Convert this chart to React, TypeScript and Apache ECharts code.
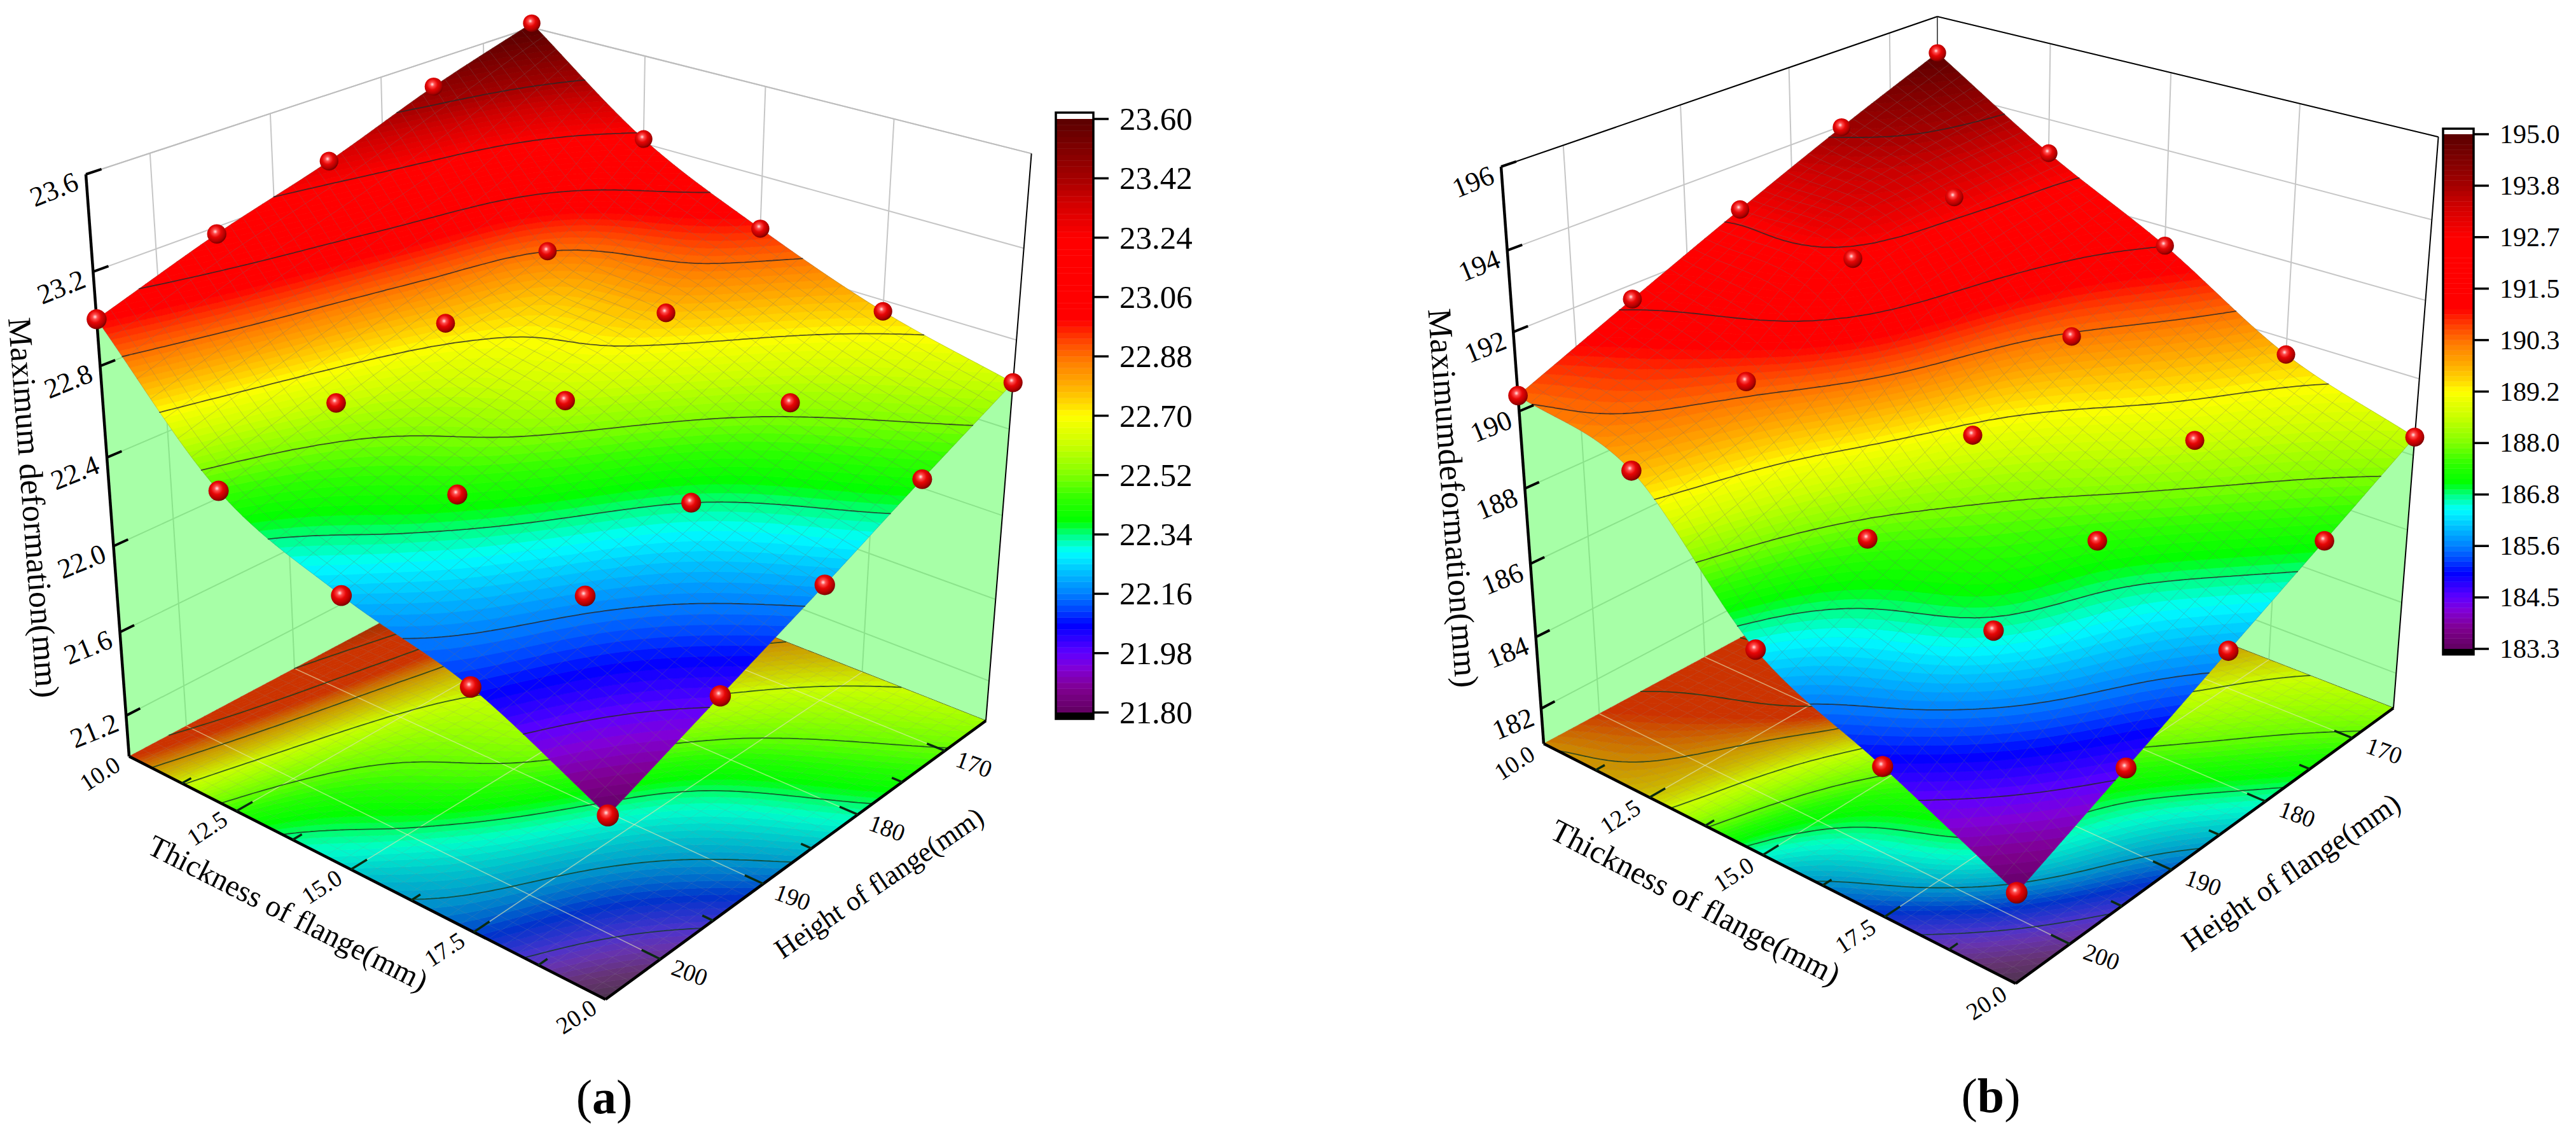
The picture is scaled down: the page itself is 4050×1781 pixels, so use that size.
import React, { useEffect, useRef } from "react";
import * as echarts from "echarts";

const FONT = "'Liberation Serif','Times New Roman',serif";
const W_PAGE = 4050;
const H_PAGE = 1781;

// ---------- data ----------
const thicknessLevels = [10, 12.5, 15, 17.5, 20];
const heightLevels = [165, 175, 185, 195, 205];
// rows: thickness; columns: height
const deformationA = [
  [23.62, 23.48, 23.31, 23.17, 23.0],
  [23.22, 22.88, 22.75, 22.61, 22.46],
  [22.96, 22.77, 22.59, 22.41, 22.23],
  [22.75, 22.55, 22.34, 22.19, 22.08],
  [22.61, 22.41, 22.2, 22.0, 21.8],
];
const deformationB = [
  [195.02, 193.97, 192.83, 191.63, 190.4],
  [193.1, 192.97, 192.48, 190.55, 189.64],
  [191.5, 190.26, 188.96, 187.69, 186.41],
  [189.58, 188.61, 187.41, 186.65, 184.9],
  [188.48, 187.18, 185.89, 184.6, 183.32],
];
const thicknessMajor = [10, 12.5, 15, 17.5, 20];
const thicknessMinor = [11.25, 13.75, 16.25, 18.75];
const heightMajor = [170, 180, 190, 200];
const heightMinor = [175, 185, 195];
const zTicksA = [21.2, 21.6, 22.0, 22.4, 22.8, 23.2, 23.6];
const zTicksB = [182, 184, 186, 188, 190, 192, 194, 196];
const colorLabelsA = ["21.80", "21.98", "22.16", "22.34", "22.52", "22.70", "22.88", "23.06", "23.24", "23.42", "23.60"];
const colorLabelsB = ["183.3", "184.5", "185.6", "186.8", "188.0", "189.2", "190.3", "191.5", "192.7", "193.8", "195.0"];

// ---------- colour scale of the reference ----------
const colorStops: [number, number[]][] = [
  [0, [96, 0, 96]], [0.04, [128, 0, 144]], [0.075, [128, 0, 216]], [0.1, [96, 0, 255]],
  [0.147, [0, 0, 255]], [0.171, [0, 64, 255]], [0.2, [0, 128, 255]], [0.236, [0, 191, 255]],
  [0.271, [0, 255, 255]], [0.3, [0, 255, 128]], [0.322, [0, 255, 0]], [0.361, [48, 255, 0]],
  [0.4, [128, 255, 0]], [0.45, [200, 255, 0]], [0.5, [255, 255, 0]], [0.518, [255, 221, 0]],
  [0.554, [255, 170, 0]], [0.59, [255, 127, 0]], [0.625, [255, 69, 0]], [0.645, [255, 32, 0]],
  [0.661, [255, 0, 0]], [0.8, [255, 0, 0]], [0.86, [208, 0, 0]], [0.9, [165, 0, 0]], [1, [90, 0, 0]],
];
const BANDS = 100;
function bandColor(k: number, floor: boolean) {
  const t = (k + 0.5) / BANDS;
  let c = colorStops[colorStops.length - 1][1];
  for (let i = 1; i < colorStops.length; i++) {
    if (t <= colorStops[i][0]) {
      const [t0, c0] = colorStops[i - 1];
      const [t1, c1] = colorStops[i];
      const f = (t - t0) / (t1 - t0);
      c = c0.map((v, j) => v + (c1[j] - v) * f);
      break;
    }
  }
  if (floor) c = [c[0] * 0.8, c[1] * 0.8 + 51, c[2] * 0.8];
  return `rgb(${Math.round(c[0])},${Math.round(c[1])},${Math.round(c[2])})`;
}

// ---------- perspective camera built from the box corners ----------
type P = number[];
function makeCamera(K: P, R: P, B: P, L: P, Lt: P, Rt: P) {
  const dx1 = R[0] - B[0], dx2 = L[0] - B[0], sx = K[0] - R[0] + B[0] - L[0];
  const dy1 = R[1] - B[1], dy2 = L[1] - B[1], sy = K[1] - R[1] + B[1] - L[1];
  const det = dx1 * dy2 - dx2 * dy1;
  const g = (sx * dy2 - dx2 * sy) / det;
  const h = (dx1 * sy - sx * dy1) / det;
  const a = R[0] - K[0] + g * R[0], b = L[0] - K[0] + h * L[0], c = K[0];
  const d = R[1] - K[1] + g * R[1], e = L[1] - K[1] + h * L[1], f = K[1];
  const sl = (L[0] - Lt[0]) / (L[1] - Lt[1]);
  const sr = (R[0] - Rt[0]) / (R[1] - Rt[1]);
  const Vy = (R[0] - sr * R[1] - L[0] + sl * L[1]) / (sl - sr);
  const Vx = L[0] + sl * (Vy - L[1]);
  const wL = 1 + h;
  const beta = (wL * (Lt[1] - L[1])) / (Vy - Lt[1]);
  return (u: number, v: number, w: number): P => {
    const W = 1 + g * u + h * v + beta * w;
    return [(a * u + b * v + c + beta * w * Vx) / W, (d * u + e * v + f + beta * w * Vy) / W, W];
  };
}

// ---------- smooth surface through the read values (drawing step only) ----------
function cr(p0: number, p1: number, p2: number, p3: number, t: number) {
  return 0.5 * (2 * p1 + (p2 - p0) * t + (2 * p0 - 5 * p1 + 4 * p2 - p3) * t * t + (3 * p1 - p0 - 3 * p2 + p3) * t * t * t);
}
function sampler(rows: number[][]) {
  const n = rows.length;
  const at = (i: number, j: number) => {
    const ci = (x: number) => Math.max(0, Math.min(n - 1, x));
    const ii = ci(i), jj = ci(j);
    let val = rows[ii][jj];
    if (i !== ii) val += (rows[ii][jj] - rows[i < 0 ? 1 : n - 2][jj]);
    if (j !== jj) val += (rows[ii][jj] - rows[ii][j < 0 ? 1 : n - 2]);
    return val;
  };
  return (u: number, v: number) => {
    const x = Math.min(u * (n - 1), n - 1.000001), y = Math.min(v * (n - 1), n - 1.000001);
    const i = Math.floor(x), j = Math.floor(y);
    const tx = x - i, ty = y - j;
    const col = [-1, 0, 1, 2].map((di) =>
      cr(at(i + di, j - 1), at(i + di, j), at(i + di, j + 1), at(i + di, j + 2), ty)
    );
    return cr(col[0], col[1], col[2], col[3], tx);
  };
}

type V = number[]; // u, v, z
function clipBelow(poly: V[], lim: number, keepAbove: boolean) {
  const out: V[] = [];
  for (let i = 0; i < poly.length; i++) {
    const p = poly[i], q = poly[(i + 1) % poly.length];
    const pin = keepAbove ? p[2] >= lim : p[2] <= lim;
    const qin = keepAbove ? q[2] >= lim : q[2] <= lim;
    if (pin) out.push(p);
    if (pin !== qin) {
      const t = (lim - p[2]) / (q[2] - p[2]);
      out.push([p[0] + (q[0] - p[0]) * t, p[1] + (q[1] - p[1]) * t, lim]);
    }
  }
  return out;
}

const MESH = 60;
function triangulate(f: (u: number, v: number) => number) {
  const tris: V[][] = [];
  const g: V[][] = [];
  for (let i = 0; i <= MESH; i++) {
    g.push([]);
    for (let j = 0; j <= MESH; j++) {
      const u = i / MESH, v = j / MESH;
      g[i].push([u, v, f(u, v)]);
    }
  }
  for (let i = 0; i < MESH; i++)
    for (let j = 0; j < MESH; j++) {
      tris.push([g[i][j], g[i + 1][j], g[i + 1][j + 1]]);
      tris.push([g[i][j], g[i + 1][j + 1], g[i][j + 1]]);
    }
  return tris;
}
function bandPolys(tris: V[][], cMin: number, cMax: number) {
  const dz = (cMax - cMin) / BANDS;
  const bands: V[][][] = Array.from({ length: BANDS }, () => []);
  for (const t of tris) {
    const zs = t.map((p) => p[2]);
    const k0 = Math.max(0, Math.min(BANDS - 1, Math.floor((Math.min(...zs) - cMin) / dz)));
    const k1 = Math.max(0, Math.min(BANDS - 1, Math.floor((Math.max(...zs) - cMin) / dz)));
    for (let k = k0; k <= k1; k++) {
      let poly: V[] = t;
      if (k > 0) poly = clipBelow(poly, cMin + k * dz, true);
      if (k < BANDS - 1 && poly.length) poly = clipBelow(poly, cMin + (k + 1) * dz, false);
      if (poly.length >= 3) bands[k].push(poly);
    }
  }
  return bands;
}
function contourSegs(tris: V[][], levels: number[]) {
  const segs: V[][] = [];
  for (const lv of levels)
    for (const t of tris) {
      const pts: V[] = [];
      for (let i = 0; i < 3; i++) {
        const p = t[i], q = t[(i + 1) % 3];
        if (p[2] < lv !== q[2] < lv) {
          const s = (lv - p[2]) / (q[2] - p[2]);
          pts.push([p[0] + (q[0] - p[0]) * s, p[1] + (q[1] - p[1]) * s]);
        }
      }
      if (pts.length === 2) segs.push(pts);
    }
  return segs;
}

// ---------- the two panels ----------
const panels = [
  {
    rows: deformationA, zMin: 21, zMax: 23.6, cMin: 21.8, cMax: 23.6, zTicks: zTicksA, zFmt: (v: number) => v.toFixed(1),
    corners: { K: [837, 852], R: [1550, 1133], B: [952, 1571], L: [203, 1189], Lt: [135, 274], Rt: [1622, 237] },
    frameColor: "#bdbdbd", backLine: false,
    zTitle: { text: "Maximum deformation(mm)", x: 53, y: 798, rot: -85.7, size: 52 },
    tTitle: { x: 453, y: 1435, rot: -26.8, size: 48 },
    hTitle: { x: 1382, y: 1388, rot: 34.2, size: 44 },
    caption: { text: "({b|a})", x: 950, y: 1724 },
    zOff: [-50, 24], tOff: [-46, 27], hOff: [46, 21],
  },
  {
    rows: deformationB, zMin: 181, zMax: 196, cMin: 183.3, cMax: 195, zTicks: zTicksB, zFmt: (v: number) => String(v),
    corners: { K: [3048, 835], R: [3763, 1113], B: [3169, 1546], L: [2427, 1169], Lt: [2360, 262], Rt: [3833, 223] },
    frameColor: "#000", backLine: true,
    zTitle: { text: "Maximumdeformation(mm)", x: 2285, y: 783, rot: -85.8, size: 53 },
    tTitle: { x: 2666, y: 1418, rot: -27.5, size: 50 },
    hTitle: { x: 3602, y: 1371, rot: 34.3, size: 46 },
    caption: { text: "({b|b})", x: 3130, y: 1722 },
    zOff: [-44, 24], tOff: [-46, 30], hOff: [50, 20],
  },
];

const round = (n: number) => Math.round(n * 10) / 10;

function panelSeries(p: (typeof panels)[number]) {
  const c = p.corners;
  const cam = makeCamera(c.K, c.R, c.B, c.L, c.Lt, c.Rt);
  const surf = sampler(p.rows);
  const wOf = (z: number) => (z - p.zMin) / (p.zMax - p.zMin);
  const uOf = (t: number) => (t - 10) / 10;
  const vOf = (h: number) => (h - 165) / 40;
  const tris = triangulate(surf);
  const bands = bandPolys(tris, p.cMin, p.cMax);
  const levels = Array.from({ length: 9 }, (_, i) => p.cMin + ((i + 1) * (p.cMax - p.cMin)) / 10);
  const segs = contourSegs(tris, levels);

  const base = { type: "custom", coordinateSystem: "cartesian2d", xAxisIndex: 0, yAxisIndex: 0, data: [[0, 0]], silent: true, clip: false };
  const at = (api: any, u: number, v: number, w: number) => api.coord(cam(u, v, w));
  const seg = (api: any, a: number[], b: number[], color: string, lineWidth: number) => {
    const s = at(api, a[0], a[1], a[2]), e = at(api, b[0], b[1], b[2]);
    return { type: "line", shape: { x1: s[0], y1: s[1], x2: e[0], y2: e[1] }, style: { stroke: color, lineWidth } };
  };
  const polyPath = (api: any, poly: number[][], wFn: (q: number[]) => number) =>
    poly.map((q, i) => {
      const s = at(api, q[0], q[1], wFn(q));
      return `${i ? "L" : "M"}${round(s[0])} ${round(s[1])}`;
    }).join("") + "Z";
  const bandLayer = (floor: boolean) => ({
    ...base,
    renderItem: (_: any, api: any) => ({
      type: "group",
      children: bands.map((polys, k) => {
        if (!polys.length) return null;
        const d = polys.map((q) => polyPath(api, q, floor ? () => 0 : (m) => wOf(m[2]))).join("");
        const col = bandColor(k, floor);
        return { type: "path", shape: { pathData: d }, style: { fill: col, stroke: col, lineWidth: 0.7 } };
      }).filter(Boolean),
    }),
  });
  const overlay = (floor: boolean) => ({
    ...base,
    renderItem: (_: any, api: any) => {
      const wFn = (u: number, v: number) => (floor ? 0 : wOf(surf(u, v)));
      let mesh = "";
      const CELLS = 36, STEPS = 36;
      for (let i = 0; i <= CELLS; i++) {
        const a = [], b = [];
        for (let j = 0; j <= STEPS; j++) {
          const s = i / CELLS, t = j / STEPS;
          const p1 = at(api, s, t, wFn(s, t)), p2 = at(api, t, s, wFn(t, s));
          a.push(`${j ? "L" : "M"}${round(p1[0])} ${round(p1[1])}`);
          b.push(`${j ? "L" : "M"}${round(p2[0])} ${round(p2[1])}`);
        }
        mesh += a.join("") + b.join("");
      }
      let cont = "";
      for (const sg of segs) {
        const s = at(api, sg[0][0], sg[0][1], wFn(sg[0][0], sg[0][1]));
        const e = at(api, sg[1][0], sg[1][1], wFn(sg[1][0], sg[1][1]));
        cont += `M${round(s[0])} ${round(s[1])}L${round(e[0])} ${round(e[1])}`;
      }
      const children: any[] = [
        { type: "path", shape: { pathData: mesh }, style: { fill: "none", stroke: floor ? "rgba(140,140,140,0.25)" : "rgba(110,110,110,0.42)", lineWidth: 0.8 } },
      ];
      if (floor) {
        const pale = "rgba(228,232,180,0.6)";
        thicknessMajor.slice(1, 4).forEach((t) => children.push(seg(api, [uOf(t), 0, 0], [uOf(t), 1, 0], pale, 1.6)));
        heightMajor.forEach((h) => children.push(seg(api, [0, vOf(h), 0], [1, vOf(h), 0], pale, 1.6)));
      }
      children.push({ type: "path", shape: { pathData: cont }, style: { fill: "none", stroke: floor ? "rgba(20,60,30,0.8)" : "rgba(40,40,40,0.8)", lineWidth: 1.8, lineCap: "round" } });
      return { type: "group", children };
    },
  });

  const walls = {
    ...base,
    renderItem: (_: any, api: any) => {
      const grid = "#c6c6c6";
      const children: any[] = [];
      p.zTicks.forEach((z) => {
        const w = wOf(z);
        children.push(seg(api, [0, 1, w], [0, 0, w], grid, 2));
        children.push(seg(api, [0, 0, w], [1, 0, w], grid, 2));
      });
      heightMajor.forEach((h) => children.push(seg(api, [0, vOf(h), 0], [0, vOf(h), 1], grid, 2)));
      thicknessMajor.slice(1, 4).forEach((t) => children.push(seg(api, [uOf(t), 0, 0], [uOf(t), 0, 1], grid, 2)));
      children.push(seg(api, [0, 1, 1], [0, 0, 1], p.frameColor, 2));
      children.push(seg(api, [0, 0, 1], [1, 0, 1], p.frameColor, 2));
      if (p.backLine) children.push(seg(api, [0, 0, 0], [0, 0, 1], "#222", 1.5));
      const skirt = (edge: (t: number) => number[]) => {
        const pts: number[][] = [];
        for (let i = 0; i <= 60; i++) {
          const [u, v] = edge(i / 60);
          pts.push(at(api, u, v, wOf(surf(u, v))));
        }
        const [u1, v1] = edge(1), [u0, v0] = edge(0);
        pts.push(at(api, u1, v1, 0), at(api, u0, v0, 0));
        return { type: "polygon", shape: { points: pts }, style: { fill: "rgba(80,255,80,0.5)" } };
      };
      children.push(skirt((t) => [0, t]));
      children.push(skirt((t) => [t, 0]));
      children.push(seg(api, [0, 0, 0], [1, 0, 0], "#111", 1.5));
      return { type: "group", children };
    },
  };

  const frame = {
    ...base,
    renderItem: (_: any, api: any) => {
      const k = "#000";
      const children: any[] = [];
      children.push(seg(api, [1, 0, 0], [1, 0, 1], k, 2));
      children.push(seg(api, [0, 1, 0], [0, 1, 1], k, 4.5));
      children.push(seg(api, [0, 1, 0], [1, 1, 0], k, 4.5));
      children.push(seg(api, [1, 1, 0], [1, 0, 0], k, 4.5));
      p.zTicks.forEach((z) => children.push(seg(api, [0, 1, wOf(z)], [0, 0.97, wOf(z)], k, 4)));
      thicknessMajor.slice(1, 4).forEach((t) => children.push(seg(api, [uOf(t), 1, 0], [uOf(t), 0.965, 0], "#0a2a10", 3.5)));
      thicknessMinor.forEach((t) => children.push(seg(api, [uOf(t), 1, 0], [uOf(t), 0.98, 0], "#0a2a10", 3.5)));
      heightMajor.forEach((h) => children.push(seg(api, [1, vOf(h), 0], [0.965, vOf(h), 0], "#0a2a10", 3.5)));
      heightMinor.forEach((h) => children.push(seg(api, [1, vOf(h), 0], [0.98, vOf(h), 0], "#0a2a10", 3.5)));

      thicknessLevels.forEach((t, i) => {
        heightLevels.forEach((h, j) => {
          const z = p.rows[i][j];
          const q = cam(uOf(t), vOf(h), wOf(z));
          const s = api.coord(q);
          children.push({
            type: "circle",
            shape: { cx: s[0], cy: s[1], r: 12.6 / q[2] },
            style: {
              fill: new echarts.graphic.RadialGradient(0.42, 0.38, 0.62, [
                { offset: 0, color: "#ffe6e6" },
                { offset: 0.2, color: "#ff4c4c" },
                { offset: 0.48, color: "#e60606" },
                { offset: 0.82, color: "#b00000" },
                { offset: 1, color: "#780000" },
              ]),
            },
          });
        });
      });

      const label = (text: string, xy: number[], off: number[], rot: number, size: number) => ({
        type: "text", x: xy[0] + off[0], y: xy[1] + off[1], rotation: (rot * Math.PI) / 180,
        style: { text, fontFamily: FONT, fontSize: size, fill: "#000", align: "center", verticalAlign: "middle" },
      });
      p.zTicks.forEach((z) => children.push(label(p.zFmt(z), at(api, 0, 1, wOf(z)), p.zOff, 22, 44)));
      thicknessMajor.forEach((t) => children.push(label(t.toFixed(1), at(api, uOf(t), 1, 0), p.tOff, 33, 38)));
      heightMajor.forEach((h) => children.push(label(String(h), at(api, 1, vOf(h), 0), p.hOff, -20, 38)));
      const title = (text: string, o: any) => ({
        type: "text", x: o.x, y: o.y, rotation: (o.rot * Math.PI) / 180,
        style: { text, fontFamily: FONT, fontSize: o.size, fill: "#000", align: "center", verticalAlign: "middle" },
      });
      children.push(title(p.zTitle.text, p.zTitle));
      children.push(title("Thickness of flange(mm)", p.tTitle));
      children.push(title("Height of flange(mm)", p.hTitle));
      children.push({
        type: "text", x: p.caption.x, y: p.caption.y,
        style: {
          text: p.caption.text, fontFamily: FONT, fontSize: 76, fill: "#000", align: "center", verticalAlign: "middle",
          rich: { b: { fontFamily: FONT, fontSize: 76, fontWeight: "bold", fill: "#000" } },
        },
      });
      return { type: "group", children };
    },
  };
  return [walls, bandLayer(true), overlay(true), bandLayer(false), overlay(false), frame];
}

function colorbarSeries(axisIndex: number) {
  return {
    type: "custom", coordinateSystem: "cartesian2d", xAxisIndex: axisIndex, yAxisIndex: axisIndex,
    data: [[0, 0]], silent: true, clip: false,
    renderItem: (_: any, api: any) => {
      const children: any[] = [];
      const cap = 0.107;
      for (let k = 0; k < BANDS; k++) {
        const a = api.coord([0, (k * 10) / BANDS]), b = api.coord([1, ((k + 1) * 10) / BANDS]);
        const col = bandColor(k, false);
        children.push({ type: "rect", shape: { x: a[0], y: b[1], width: b[0] - a[0], height: a[1] - b[1] }, style: { fill: col, stroke: col, lineWidth: 0.5 } });
      }
      const t0 = api.coord([0, 10 + cap]), t1 = api.coord([1, 10]);
      const b0 = api.coord([0, 0]), b1 = api.coord([1, -cap]);
      children.push({ type: "rect", shape: { x: t0[0], y: t0[1], width: t1[0] - t0[0], height: t1[1] - t0[1] }, style: { fill: "#fff" } });
      children.push({ type: "rect", shape: { x: b0[0], y: b0[1], width: b1[0] - b0[0], height: b1[1] - b0[1] }, style: { fill: "#000" } });
      children.push({ type: "rect", shape: { x: t0[0], y: t0[1], width: b1[0] - t0[0], height: b1[1] - t0[1] }, style: { fill: "none", stroke: "#000", lineWidth: 3.5 } });
      // tick marks of the colour bar, on the axis' own positions
      for (let i = 0; i <= 10; i++) {
        const q = api.coord([1, i]);
        children.push({ type: "line", shape: { x1: q[0], y1: q[1], x2: q[0] + 24, y2: q[1] }, style: { stroke: "#000", lineWidth: 3.5 } });
      }
      return { type: "group", children };
    },
  };
}

function colorAxis(gridIndex: number, labels: string[], size: number, margin: number) {
  return {
    gridIndex, type: "value", position: "right", min: 0, max: 10, interval: 1,
    axisLine: { show: false, onZero: false }, splitLine: { show: false },
    axisTick: { show: false },
    axisLabel: { margin, fontSize: size, fontFamily: FONT, color: "#000", formatter: (v: number) => labels[v] },
  };
}
const hiddenX = (gridIndex: number, max: number) => ({ gridIndex, type: "value", min: 0, max, show: false });

export default function App() {
  const ref = useRef<HTMLDivElement>(null);
  useEffect(() => {
    document.body.style.margin = "0";
    const chart = echarts.init(ref.current!, undefined, { renderer: "svg" });
    chart.setOption({
      animation: false,
      backgroundColor: "#fff",
      grid: [
        { left: 0, top: 0, width: W_PAGE, height: H_PAGE },
        { left: 1660, top: 187, width: 59, height: 933 },
        { left: 3841, top: 211, width: 48, height: 809 },
      ],
      xAxis: [hiddenX(0, W_PAGE), hiddenX(1, 1), hiddenX(2, 1)],
      yAxis: [
        { gridIndex: 0, type: "value", min: 0, max: H_PAGE, inverse: true, show: false },
        colorAxis(1, colorLabelsA, 51, 41),
        colorAxis(2, colorLabelsB, 42, 41),
      ],
      series: [...panelSeries(panels[0]), ...panelSeries(panels[1]), colorbarSeries(1), colorbarSeries(2)],
    });
    return () => chart.dispose();
  }, []);
  return <div ref={ref} style={{ position: "absolute", left: 0, top: 0, width: W_PAGE, height: H_PAGE }} />;
}
